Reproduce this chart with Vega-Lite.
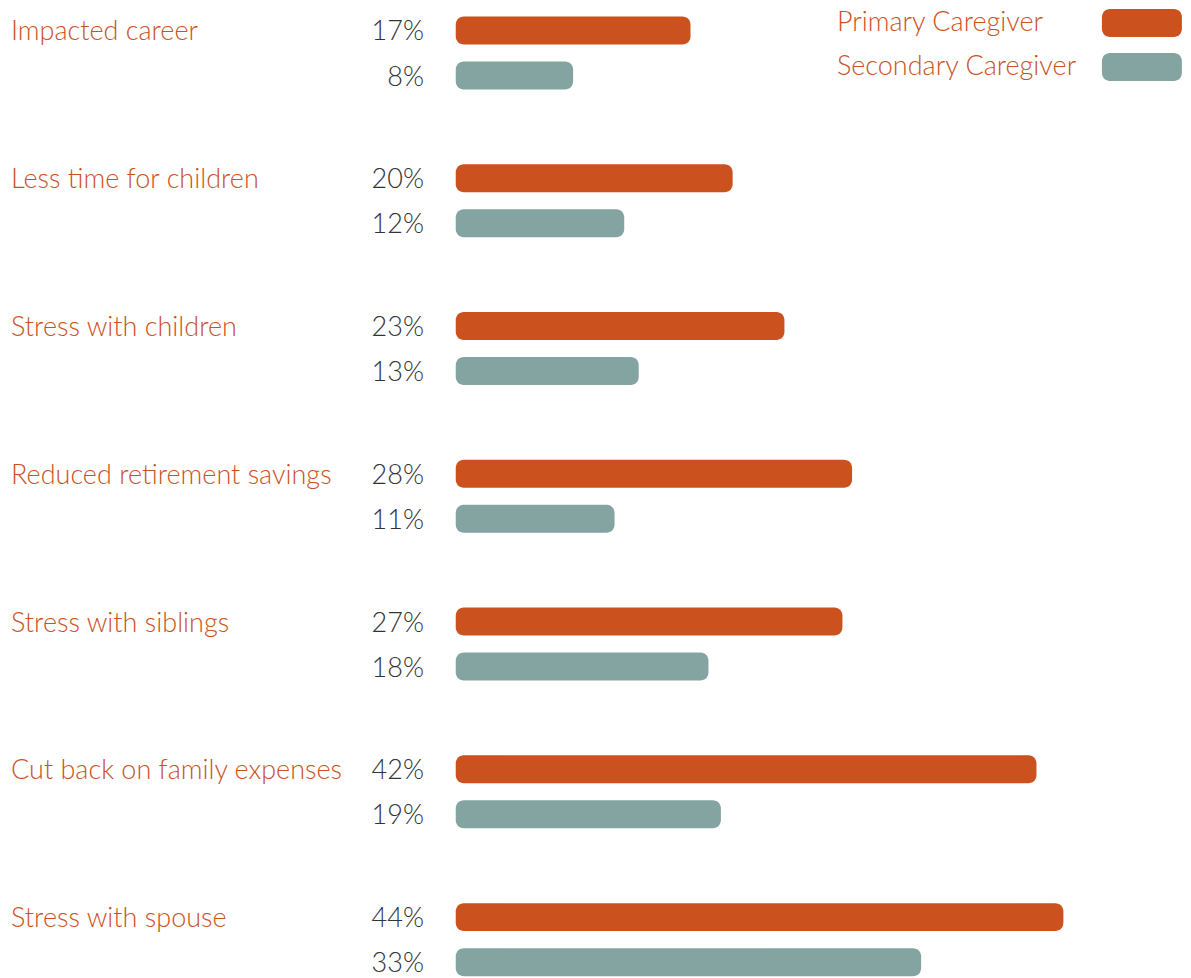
{
  "$schema": "https://vega.github.io/schema/vega-lite/v6.json",
  "width": 1191,
  "height": 978,
  "padding": 0,
  "autosize": {"type": "none"},
  "background": "white",
  "config": {"view": {"stroke": null}},
  "datasets": {
    "main": [
      {"category": "Impacted career", "group": "Primary", "label": "17%", "share": 17.0},
      {"category": "Impacted career", "group": "Secondary", "label": "8%", "share": 8.5},
      {"category": "Less time for children", "group": "Primary", "label": "20%", "share": 20.05},
      {"category": "Less time for children", "group": "Secondary", "label": "12%", "share": 12.2},
      {"category": "Stress with children", "group": "Primary", "label": "23%", "share": 23.8},
      {"category": "Stress with children", "group": "Secondary", "label": "13%", "share": 13.25},
      {"category": "Reduced retirement savings", "group": "Primary", "label": "28%", "share": 28.7},
      {"category": "Reduced retirement savings", "group": "Secondary", "label": "11%", "share": 11.5},
      {"category": "Stress with siblings", "group": "Primary", "label": "27%", "share": 28.0},
      {"category": "Stress with siblings", "group": "Secondary", "label": "18%", "share": 18.3},
      {"category": "Cut back on family expenses", "group": "Primary", "label": "42%", "share": 42.05},
      {"category": "Cut back on family expenses", "group": "Secondary", "label": "19%", "share": 19.2},
      {"category": "Stress with spouse", "group": "Primary", "label": "44%", "share": 44.0},
      {"category": "Stress with spouse", "group": "Secondary", "label": "33%", "share": 33.7}
    ],
    "legend": [
      {"group": "Primary", "name": "Primary Caregiver"},
      {"group": "Secondary", "name": "Secondary Caregiver"}
    ]
  },
  "layer": [
    {
      "data": {"name": "main"},
      "encoding": {
        "y": {
          "field": "category",
          "type": "nominal",
          "sort": ["Impacted career", "Less time for children", "Stress with children", "Reduced retirement savings", "Stress with siblings", "Cut back on family expenses", "Stress with spouse"],
          "axis": null,
          "scale": {"range": [-0.5, 1033.9], "paddingInner": 0, "paddingOuter": 0}
        },
        "yOffset": {
          "field": "group",
          "type": "nominal",
          "sort": ["Primary", "Secondary"],
          "scale": {"range": [17, 90], "paddingInner": 0.378, "paddingOuter": 0}
        }
      },
      "layer": [
        {
          "mark": {"type": "bar", "cornerRadius": 8},
          "encoding": {
            "x": {"field": "share", "type": "quantitative", "scale": {"domain": [-33, 53.24], "nice": false, "zero": false}, "axis": null},
            "x2": {"datum": 0},
            "color": {"field": "group", "type": "nominal", "scale": {"domain": ["Primary", "Secondary"], "range": ["#CB521E", "#84A4A2"]}, "legend": null}
          }
        },
        {
          "mark": {"type": "text", "align": "right", "baseline": "middle", "dy": 2, "fontSize": 27, "font": "Lato", "fontWeight": 300, "color": "#333333"},
          "encoding": {
            "x": {"datum": -2.3},
            "text": {"field": "label"}
          }
        },
        {
          "transform": [{"filter": "datum.group === 'Primary'"}],
          "mark": {"type": "text", "align": "left", "baseline": "middle", "dy": 2, "fontSize": 27, "font": "Lato", "fontWeight": 300, "color": "#CB521E"},
          "encoding": {
            "x": {"datum": -32.2},
            "text": {"field": "category"}
          }
        }
      ]
    },
    {
      "data": {"name": "legend"},
      "encoding": {
        "y": {
          "field": "group",
          "type": "nominal",
          "sort": ["Primary", "Secondary"],
          "axis": null,
          "scale": {"range": [9, 81], "paddingInner": 0.3636, "paddingOuter": 0}
        }
      },
      "layer": [
        {
          "mark": {"type": "bar", "cornerRadius": 8},
          "encoding": {
            "x": {"datum": 46.79},
            "x2": {"datum": 52.58},
            "color": {"field": "group", "type": "nominal", "legend": null}
          }
        },
        {
          "mark": {"type": "text", "align": "left", "baseline": "middle", "dy": 0, "fontSize": 27, "font": "Lato", "fontWeight": 300, "color": "#CB521E"},
          "encoding": {
            "x": {"datum": 27.6},
            "text": {"field": "name"}
          }
        }
      ]
    }
  ],
  "resolve": {"scale": {"y": "independent"}}
}
